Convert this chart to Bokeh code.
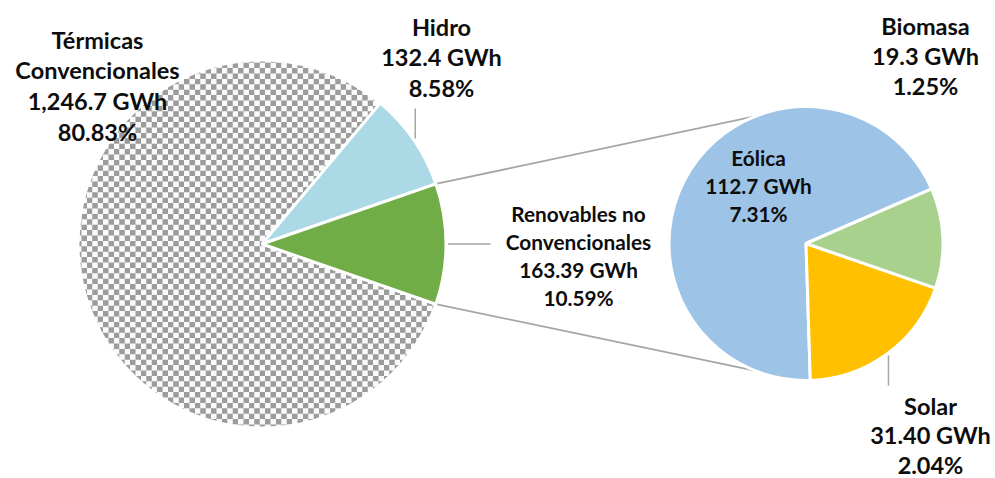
import numpy as np
from bokeh.plotting import figure
from bokeh.models import Range1d, ColumnDataSource
from bokeh.embed import file_html
from bokeh.resources import INLINE
from bokeh.core.properties import value

# ---------------- data ----------------
main_names = ["Térmicas\nConvencionales", "Hidro", "Renovables no\nConvencionales"]
main_gwh = [1246.7, 132.4, 163.39]
main_gwh_text = ["1,246.7 GWh", "132.4 GWh", "163.39 GWh"]
main_pct = [80.83, 8.58, 10.59]

sub_names = ["Eólica", "Solar", "Biomasa"]
sub_gwh = [112.7, 31.40, 19.3]
sub_gwh_text = ["112.7 GWh", "31.40 GWh", "19.3 GWh"]
sub_pct = [7.31, 2.04, 1.25]

main_colors = ["rgba(0,0,0,0)", "#abd9e6", "#70ad47"]
sub_colors = ["#9dc3e6", "#ffc000", "#a9d18e"]

# ---------------- layout (screen px) ----------------
W, H = 995, 478
PAGE_H = 478


def sy(v):
    return PAGE_H - v


c1x, c1y, r1 = 261.5, sy(243.5), 184.0
c2x, c2y, r2 = 805.5, sy(243.0), 137.0
sub_start_deg = 23.5

FONT = "Lato"

# ---------------- angles ----------------
tot_main = sum(main_gwh)
fr = [v / tot_main for v in main_gwh]
# Renovables centered on 0 rad, then Hidro, then Térmicas counter-clockwise
a_ren0 = -fr[2] * np.pi
a_ren1 = a_ren0 + 2 * np.pi * fr[2]
a_hid1 = a_ren1 + 2 * np.pi * fr[1]
a_ter1 = a_ren0 + 2 * np.pi
main_start = [a_hid1, a_ren1, a_ren0]
main_end = [a_ter1, a_hid1, a_ren1]

tot_sub = sum(sub_gwh)
sub_start, sub_end = [], []
a = np.deg2rad(sub_start_deg)
for v in sub_gwh:
    sub_start.append(a)
    a = a + 2 * np.pi * v / tot_sub
    sub_end.append(a)

p = figure(width=W, height=H, output_backend="svg", toolbar_location=None,
           x_range=Range1d(0, W), y_range=Range1d(sy(H), sy(0)),
           min_border=0, background_fill_color="white", border_fill_color="white")
p.axis.visible = False
p.grid.visible = False
p.outline_line_color = None

# ---------------- checker texture for Térmicas ----------------
x0, x1 = c1x - r1 - 2, c1x + r1 + 2
y0, y1 = c1y - r1 - 2, c1y + r1 + 2
nx, ny = int(round(x1 - x0)), int(round(y1 - y0))
ss = 4
cell = 5.4
xs = x0 + (np.arange(nx * ss) + 0.5) / ss
ys = y0 + (np.arange(ny * ss) + 0.5) / ss
XX, YY = np.meshgrid(xs, ys)
chk = ((np.floor(XX / cell) + np.floor(YY / cell)) % 2).astype(float)
chk = chk.reshape(ny, ss, nx, ss).mean(axis=(1, 3))
xc = x0 + np.arange(nx) + 0.5
yc = y0 + np.arange(ny) + 0.5
XC, YC = np.meshgrid(xc, yc)
ang = np.mod(np.arctan2(YC - c1y, XC - c1x) - main_start[0], 2 * np.pi)
inside = (np.hypot(XC - c1x, YC - c1y) <= r1) & (ang <= (main_end[0] - main_start[0]))
gray = np.array([156, 156, 156], float)
white = np.array([250, 250, 250], float)
rgb = white[None, None, :] * (1 - chk[..., None]) + gray[None, None, :] * chk[..., None]
img = np.zeros((ny, nx), dtype=np.uint32)
view = img.view(dtype=np.uint8).reshape((ny, nx, 4))
view[..., 0] = rgb[..., 0].astype(np.uint8)
view[..., 1] = rgb[..., 1].astype(np.uint8)
view[..., 2] = rgb[..., 2].astype(np.uint8)
view[..., 3] = np.where(inside, 255, 0).astype(np.uint8)
p.image_rgba(image=[img], x=x0, y=y0, dw=nx, dh=ny)

# ---------------- connectors ----------------
con_ang2 = np.deg2rad(112.0)
p.line([c1x + r1 * np.cos(a_ren1), c2x + r2 * np.cos(con_ang2)],
       [c1y + r1 * np.sin(a_ren1), c2y + r2 * np.sin(con_ang2)],
       line_color="#a6a6a6", line_width=1.8)
p.line([c1x + r1 * np.cos(a_ren0), c2x + r2 * np.cos(-con_ang2)],
       [c1y + r1 * np.sin(a_ren0), c2y + r2 * np.sin(-con_ang2)],
       line_color="#a6a6a6", line_width=1.8)

# ---------------- pies ----------------
src_main = ColumnDataSource(dict(start=main_start, end=main_end, color=main_colors))
p.wedge(x=c1x, y=c1y, radius=r1, start_angle="start", end_angle="end",
        fill_color="color", line_color="white", line_width=3, source=src_main)
src_sub = ColumnDataSource(dict(start=sub_start, end=sub_end, color=sub_colors))
p.wedge(x=c2x, y=c2y, radius=r2, start_angle="start", end_angle="end",
        fill_color="color", line_color="white", line_width=3, source=src_sub)

# ---------------- leader lines ----------------
mid_h = (main_start[1] + main_end[1]) / 2
lx = c1x + (r1 + 2) * np.cos(mid_h)
ly = c1y + (r1 + 2) * np.sin(mid_h)
p.line([lx, lx], [ly, sy(108)], line_color="#a6a6a6", line_width=1.5)
mid_r = (main_start[2] + main_end[2]) / 2
p.line([c1x + (r1 + 2) * np.cos(mid_r), 490], [c1y, c1y], line_color="#a6a6a6", line_width=1.5)
mid_s = (sub_start[1] + sub_end[1]) / 2
sx = c2x + (r2 + 2) * np.cos(mid_s)
sy_ = c2y + (r2 + 2) * np.sin(mid_s)
p.line([sx, sx], [sy_, sy(385)], line_color="#a6a6a6", line_width=1.5)

# ---------------- labels ----------------
BIG, SMALL = "23.5px", "20.8px"


def label(lines, cx, base_first, step, size):
    ys_ = [sy(base_first + i * step) for i in range(len(lines))]
    p.text(x=[cx] * len(lines), y=ys_, text=lines, text_align="center",
           text_baseline="alphabetic", text_font=value(FONT), text_font_style="bold",
           text_font_size=size, text_color="#0d0d0d")


def lines_for(name, gtxt, pct):
    return name.split("\n") + [gtxt, f"{pct:.2f}%"]


label(lines_for(main_names[0], main_gwh_text[0], main_pct[0]), 97, 39, 30.8, BIG)
label(lines_for(main_names[1], main_gwh_text[1], main_pct[1]), 441, 26, 30.5, BIG)
label(lines_for(main_names[2], main_gwh_text[2], main_pct[2]), 578, 213, 28, SMALL)
label(lines_for(sub_names[0], sub_gwh_text[0], sub_pct[0]), 758, 157, 28, SMALL)
label(lines_for(sub_names[1], sub_gwh_text[1], sub_pct[1]), 930, 405, 29.5, BIG)
label(lines_for(sub_names[2], sub_gwh_text[2], sub_pct[2]), 925, 25, 30, BIG)

open("out.html", "w").write(file_html(p, INLINE))
